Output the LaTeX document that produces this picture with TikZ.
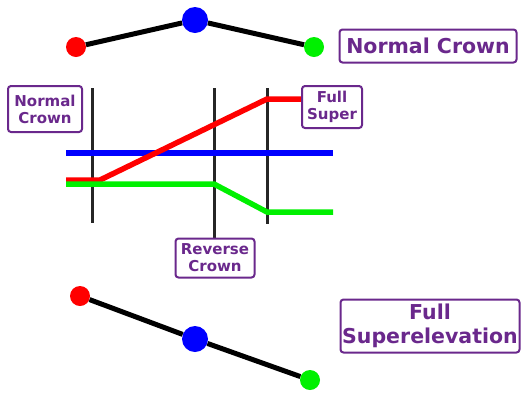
\documentclass[tikz,border=0pt]{standalone}
\usepackage{fontspec}
\setmainfont{DejaVu Sans}
\begin{document}
\begin{tikzpicture}[x=1pt,y=-1pt,
  lbl/.style={draw=labpurple,line width=2pt,rounded corners=3pt,text=labpurple,
    font=\bfseries,align=center,inner sep=0pt},
  biglbl/.style={lbl,font=\fontsize{20.5}{23.5}\selectfont\bfseries},
  smalllbl/.style={lbl,font=\fontsize{15}{17}\selectfont\bfseries},
  dotS/.style={circle,fill=#1,inner sep=0pt,minimum size=20pt},
  dotL/.style={circle,fill=#1,inner sep=0pt,minimum size=26pt},
  road/.style={line width=5pt,black},
  station/.style={line width=3pt,black!85},
  edge/.style={line width=5.5pt,#1}]
\definecolor{labpurple}{RGB}{106,40,140}
\definecolor{dgreen}{RGB}{0,240,0}
\useasboundingbox (0,0) rectangle (524,392);

% normal crown cross-section
\node[dotS=red] (nl) at (76,47) {};
\node[dotL=blue] (nc) at (195,20) {};
\node[dotS=dgreen] (nr) at (314,47) {};
\draw[road] (nl) -- (nc) -- (nr);
\node[biglbl,minimum width=177pt,minimum height=33pt] (lnc) at (428,46) {Normal Crown};

% transition diagram: stations
\coordinate (s1t) at (92,88);  \coordinate (s1b) at (92,223);
\coordinate (s2t) at (214,88); \coordinate (s2b) at (214,239);
\coordinate (s3t) at (267,88); \coordinate (s3b) at (267,224);
\draw[station] (s1t) -- (s1b);
\draw[station] (s2t) -- (s2b);
\draw[station] (s3t) -- (s3b);

% edge profiles
\coordinate (b0) at (66,153);  \coordinate (b1) at (333,153);
\coordinate (r0) at (66,180);  \coordinate (r1) at (100,180);
\coordinate (r2) at (267,99);  \coordinate (r3) at (302,99);
\coordinate (g0) at (66,184);  \coordinate (g1) at (214,184);
\coordinate (g2) at (267,212); \coordinate (g3) at (333,212);
\draw[edge=blue] (b0) -- (b1);
\draw[edge=red] (r0) -- (r1) -- (r2) -- (r3);
\draw[edge=dgreen] (g0) -- (g1) -- (g2) -- (g3);

\node[smalllbl,minimum width=74pt,minimum height=46pt,fill=white] (lsnc) at (45,109) {Normal\\Crown};
\node[smalllbl,minimum width=60pt,minimum height=42pt,fill=white] (lfs) at (332,107) {Full\\Super};
\node[smalllbl,minimum width=79pt,minimum height=39pt,fill=white] (lrc) at (215,258) {Reverse\\Crown};

% full superelevation cross-section
\node[dotS=red] (sl) at (80,296) {};
\node[dotL=blue] (sc) at (195,339) {};
\node[dotS=dgreen] (sr) at (310,380) {};
\draw[road] (sl) -- (sc) -- (sr);
\node[biglbl,minimum width=179pt,minimum height=53pt] (lfse) at (430,326) {Full\\Superelevation};
\end{tikzpicture}
\end{document}
